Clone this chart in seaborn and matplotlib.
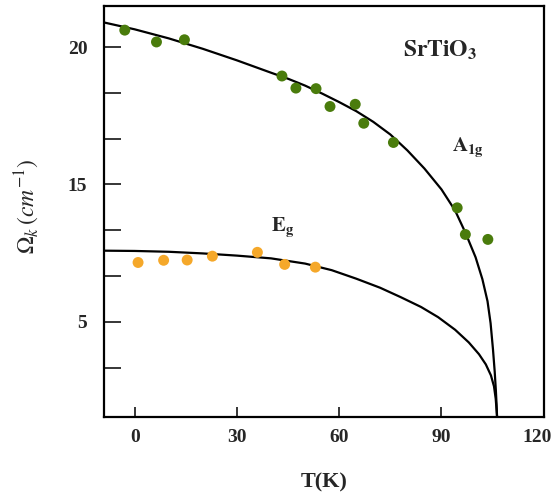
import matplotlib
matplotlib.use("Agg")
import matplotlib.pyplot as plt
import matplotlib.transforms as mtransforms
import pandas as pd
import seaborn as sns

# measured points (T in K, frequency)
a1g_T = [-2.9, 6.4, 14.6, 43.2, 47.3, 53.2, 57.3, 64.7, 67.2, 75.9, 94.6, 97.0, 103.6]
a1g_W = [20.62, 20.19, 20.27, 18.95, 18.51, 18.49, 17.84, 17.92, 17.23, 16.53, 14.15, 13.18, 13.00]

eg_T = [1.0, 8.5, 15.4, 22.8, 36.0, 44.0, 53.0]
eg_W = [12.16, 12.24, 12.25, 12.39, 12.53, 12.09, 11.99]

# fitted curves
a1g_fit_T = [-9, 0, 10, 20, 30, 40, 45, 50, 55, 60, 65, 70, 75, 80, 85, 90, 94, 97,
             100, 102, 103.5, 104.4, 105.1, 105.6, 105.95, 106.15, 106.3]
a1g_fit_W = [20.90, 20.65, 20.32, 19.94, 19.52, 19.07, 18.85, 18.60, 18.31, 18.00,
             17.67, 17.28, 16.82, 16.24, 15.58, 14.82, 14.05, 13.25, 12.35, 11.55,
             10.75, 9.95, 9.00, 8.20, 7.50, 7.00, 6.54]

eg_fit_T = [-9, 0, 10, 20, 30, 40, 50, 57.8, 65, 72, 78, 84, 89, 94, 98, 101, 103,
            104.5, 105.4, 105.9, 106.15, 106.3]
eg_fit_W = [12.59, 12.58, 12.55, 12.49, 12.41, 12.31, 12.12, 11.88, 11.57, 11.24,
            10.90, 10.54, 10.17, 9.71, 9.25, 8.82, 8.45, 8.05, 7.65, 7.20, 6.80, 6.54]

xticks = [0, 30, 60, 90, 120]
ytick_pos = [8.33, 10, 11.67, 13.33, 15, 16.67, 18.33, 20]
ytick_labels = ["", "5", "", "", "15", "", "", "20"]

green = "#4a7c0c"
orange = "#f5a82a"

sns.set_style("ticks")
plt.rcParams["font.family"] = ["Liberation Serif", "DejaVu Serif"]
plt.rcParams["mathtext.fontset"] = "stix"

fig = plt.figure(figsize=(5.56, 4.98), dpi=100)
ax = fig.add_axes([0.187, 0.163, 0.791, 0.825])

a1g_fit = pd.DataFrame({"T": a1g_fit_T, "W": a1g_fit_W})
eg_fit = pd.DataFrame({"T": eg_fit_T, "W": eg_fit_W})
sns.lineplot(data=a1g_fit, x="T", y="W", sort=False, estimator=None, color="black", lw=1.6, ax=ax)
sns.lineplot(data=eg_fit, x="T", y="W", sort=False, estimator=None, color="black", lw=1.6, ax=ax)

sns.scatterplot(x=a1g_T, y=a1g_W, color=green, s=62, edgecolor="none", ax=ax, zorder=3)
sns.scatterplot(x=eg_T, y=eg_W, color=orange, s=62, edgecolor="none", ax=ax, zorder=3)

ax.set_xlim(-9, 120)
ax.set_ylim(6.54, 21.5)
ax.set_xticks(xticks)
ax.set_xticklabels([str(t) for t in xticks], fontweight="bold", fontsize=14)
ax.set_yticks(ytick_pos)
ax.set_yticklabels(ytick_labels, fontweight="bold", fontsize=14)
ax.tick_params(axis="x", direction="in", length=7, width=1.3, pad=9)
ax.tick_params(axis="y", direction="in", length=12, width=1.3, pad=12)
for s in ax.spines.values():
    s.set_linewidth(1.6)
    s.set_color("black")

# nudge the last x label so it stays inside the figure
last = ax.get_xticklabels()[-1]
last.set_transform(last.get_transform() + mtransforms.ScaledTranslation(-5 / 72, 0, fig.dpi_scale_trans))

ax.set_xlabel("T(K)", fontweight="bold", fontsize=16)
ax.xaxis.set_label_coords(0.5, -0.135)
ax.set_ylabel(r"$\Omega_k\,(cm^{-1})$", fontsize=17)
ax.yaxis.set_label_coords(-0.143, 0.513)

ax.text(89.7, 19.9, r"$\mathbf{SrTiO_3}$", fontsize=17, ha="center", va="center")
ax.text(97.8, 16.33, r"$\mathbf{A_{1g}}$", fontsize=15, ha="center", va="center")
ax.text(43.4, 13.41, r"$\mathbf{E_g}$", fontsize=15, ha="center", va="center")

fig.savefig("out.png", dpi=100)
